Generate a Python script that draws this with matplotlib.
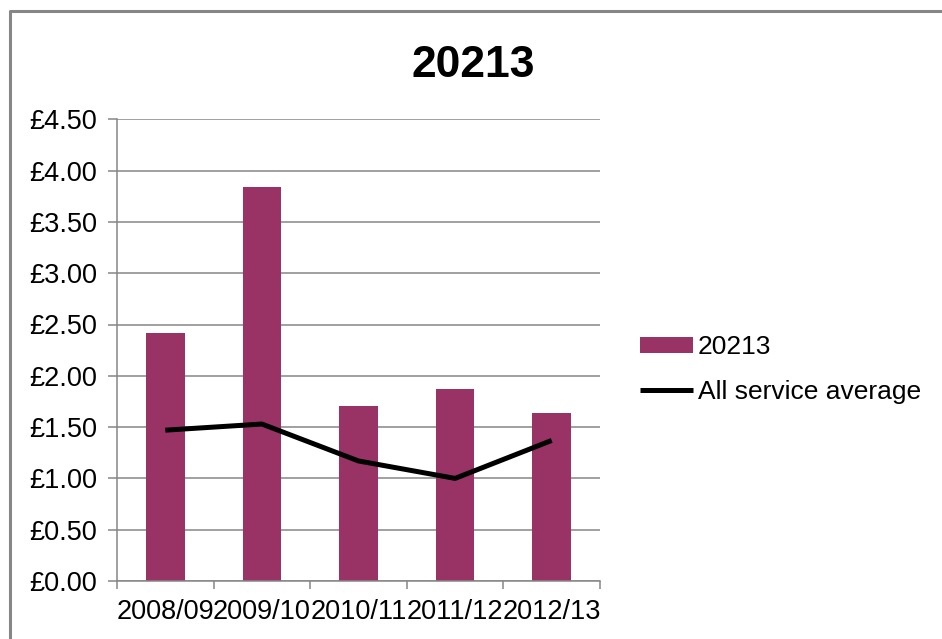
import matplotlib
matplotlib.use("Agg")
import matplotlib.pyplot as plt
from matplotlib.lines import Line2D
from matplotlib.ticker import FuncFormatter
import numpy as np

plt.rcParams['font.family'] = ['Liberation Sans', 'DejaVu Sans']

years = ["2008/09", "2009/10", "2010/11", "2011/12", "2012/13"]
cost_20213 = [2.42, 3.84, 1.71, 1.87, 1.64]
service_avg = [1.47, 1.53, 1.17, 1.00, 1.37]

bar_color = "#993366"
grid_color = "#868686"

fig = plt.figure(figsize=(9.42, 6.39), dpi=100)
ax = fig.add_axes([117 / 942, 1 - 581 / 639, (600 - 117) / 942, (581 - 119.3) / 639])

x = np.arange(len(years))
bars = ax.bar(x, cost_20213, width=0.4, color=bar_color, label="20213", zorder=2)
line, = ax.plot(x, service_avg, color="black", lw=3.6, label="All service average",
                solid_capstyle="butt", zorder=3)

ax.set_xlim(-0.5, len(years) - 0.5)
ax.set_ylim(0, 4.5)
ax.set_yticks(np.arange(0, 4.51, 0.5))
ax.yaxis.set_major_formatter(FuncFormatter(lambda v, p: "£%.2f" % v))
ax.grid(axis="y", color=grid_color, lw=1.1, zorder=0)

ax.set_xticks(x)
ax.set_xticklabels(years)
ax.set_xticks(np.arange(-0.5, len(years)), minor=True)
ax.tick_params(axis="x", which="major", length=0, pad=13, labelsize=19.5)
ax.tick_params(axis="x", which="minor", length=6, width=1.1, color=grid_color)
ax.tick_params(axis="y", length=6.5, width=1.1, color=grid_color, pad=8, labelsize=19.5)

for side in ("top", "right"):
    ax.spines[side].set_visible(False)
for side in ("left", "bottom"):
    ax.spines[side].set_color(grid_color)
    ax.spines[side].set_linewidth(1.1)

fig.text(473 / 942, 1 - 77 / 639, "20213", ha="center", va="baseline",
         fontsize=32, fontweight="bold")

ax.legend([bars, line], ["20213", "All service average"],
          loc="upper left", bbox_to_anchor=(640 / 942, 1 - 335 / 639),
          bbox_transform=fig.transFigure, frameon=False, fontsize=19,
          handlelength=2.0, handleheight=0.55, handletextpad=0.2,
          labelspacing=0.8, borderpad=0, borderaxespad=0)

# outer chart frame
fig.add_artist(Line2D([10 / 942, 10 / 942, 1.01], [-0.01, 1 - 11 / 639, 1 - 11 / 639],
                      transform=fig.transFigure, color=grid_color, lw=2.2))

fig.savefig("out.png", dpi=100)
